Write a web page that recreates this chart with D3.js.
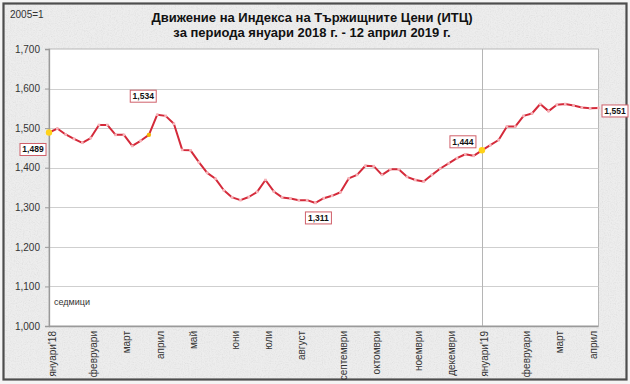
<!DOCTYPE html>
<html>
<head>
<meta charset="utf-8">
<script src="https://cdn.jsdelivr.net/npm/d3@7"></script>
<style>
  html, body { margin: 0; padding: 0; background: #ffffff; }
  svg { display: block; font-family: "Liberation Sans", Arial, sans-serif; }
</style>
</head>
<body>
<svg id="chart" width="630" height="384"></svg>
<script>
// ---- data ----
const titleLines = ["Движение на Индекса на Тържищните Цени (ИТЦ)", "за периода януари 2018 г. - 12 април 2019 г."];
const unitLabel = "2005=1";
const periodLabel = "седмици";
// weekly index values (week 0 = early January 2018, week 66 = 12 April 2019)
const values = [
  1489, 1499, 1484, 1473, 1463, 1475, 1508, 1508, 1483, 1483,
  1455, 1468, 1483, 1534, 1531, 1511, 1445, 1444, 1414, 1387,
  1372, 1343, 1325, 1318, 1326, 1339, 1369, 1340, 1325, 1322,
  1318, 1318, 1311, 1323, 1329, 1338, 1373, 1382, 1405, 1404,
  1382, 1396, 1396, 1377, 1369, 1365, 1382, 1398, 1411, 1424,
  1434, 1430, 1444, 1457, 1470, 1504, 1504, 1531, 1537, 1561,
  1543, 1559, 1561, 1557, 1552, 1550, 1551
];
const monthLabels = ["януари'18", "февруари", "март", "април", "май", "юни", "юли", "август",
  "септември", "октомври", "ноември", "декември", "януари'19", "февруари", "март", "април"];
const monthWeeks = [0, 5, 9, 13, 17, 22, 26, 30, 35, 39, 44, 48, 52, 57, 61, 65];
const yTicks = [1000, 1100, 1200, 1300, 1400, 1500, 1600, 1700];
const highlightWeeks = [0, 12, 52];
const annotatedWeeks = [0, 13, 32, 52, 66];
const yearBreakWeek = 52;

// ---- layout ----
const W = 630, H = 384;
const plot = { left: 49, right: 598.5, top: 49, bottom: 326 };
const svg = d3.select("#chart");

const defs = svg.append("defs");
const f = defs.append("filter").attr("id", "grain").attr("x", 0).attr("y", 0).attr("width", 1).attr("height", 1);
f.append("feTurbulence").attr("type", "fractalNoise").attr("baseFrequency", 0.85).attr("numOctaves", 2).attr("seed", 3);
f.append("feColorMatrix").attr("type", "matrix")
  .attr("values", "0.33 0.33 0.33 0 0.45  0.33 0.33 0.33 0 0.45  0.33 0.33 0.33 0 0.45  0 0 0 0 0.35");

// background frame
svg.append("rect").attr("x", 0).attr("y", 0).attr("width", W).attr("height", H).attr("fill", "#f4f4f4");
svg.append("rect").attr("x", 3.5).attr("y", 3.5).attr("width", 623).attr("height", 376)
  .attr("fill", "#e3e3e3");
svg.append("rect").attr("x", 3.5).attr("y", 3.5).attr("width", 623).attr("height", 376)
  .attr("filter", "url(#grain)");
svg.append("rect").attr("x", 3.5).attr("y", 3.5).attr("width", 623).attr("height", 376)
  .attr("fill", "none").attr("stroke", "#4d4d4d").attr("stroke-width", 2.2);

// scales
const x = d3.scaleLinear().domain([0, values.length - 1]).range([plot.left, plot.right]);
const y = d3.scaleLinear().domain([1000, 1700]).range([plot.bottom, plot.top]);

// plot area
svg.append("rect").attr("x", plot.left).attr("y", plot.top)
  .attr("width", plot.right - plot.left).attr("height", plot.bottom - plot.top)
  .attr("fill", "#ffffff").attr("stroke", "#b8b8b8").attr("stroke-width", 1);

// gridlines
svg.append("g").selectAll("line").data(yTicks.slice(1, -1)).join("line")
  .attr("x1", plot.left).attr("x2", plot.right)
  .attr("y1", d => Math.round(y(d)) + 0.5).attr("y2", d => Math.round(y(d)) + 0.5)
  .attr("stroke", "#cfcfcf").attr("stroke-width", 1.2);

// year break line
svg.append("line")
  .attr("x1", Math.round(x(yearBreakWeek)) + 0.5).attr("x2", Math.round(x(yearBreakWeek)) + 0.5)
  .attr("y1", plot.top).attr("y2", plot.bottom)
  .attr("stroke", "#b5b5b5").attr("stroke-width", 1);

// y axis
const yAxis = d3.axisLeft(y).tickValues(yTicks).tickFormat(d3.format(",")).tickSize(4).tickPadding(5);
const gy = svg.append("g").attr("transform", `translate(${plot.left},0)`).call(yAxis);
gy.select(".domain").attr("stroke", "#9a9a9a").attr("stroke-width", 1.3);
gy.selectAll(".tick line").attr("stroke", "#9a9a9a");
gy.selectAll(".tick text").attr("font-size", 10).attr("fill", "#333").attr("font-family", "Liberation Sans, Arial, sans-serif");

// bottom axis line
svg.append("line").attr("x1", plot.left).attr("x2", plot.right)
  .attr("y1", plot.bottom + 0.5).attr("y2", plot.bottom + 0.5)
  .attr("stroke", "#9a9a9a").attr("stroke-width", 1.3);

// month labels (rotated)
svg.append("g").selectAll("text").data(monthLabels).join("text")
  .attr("transform", (d, i) => `translate(${x(monthWeeks[i]) + 3},${plot.bottom + 5}) rotate(-90)`)
  .attr("text-anchor", "end").attr("dy", "0.35em")
  .attr("font-size", 10).attr("fill", "#333")
  .text(d => d);

// line
const line = d3.line().x((d, i) => x(i)).y(d => y(d));
svg.append("path").datum(values)
  .attr("d", line).attr("fill", "none")
  .attr("stroke", "#d42a3a").attr("stroke-width", 2).attr("stroke-linejoin", "round");

// point markers
svg.append("g").selectAll("rect").data(values).join("rect")
  .attr("x", (d, i) => x(i) - 1.3).attr("y", d => y(d) - 1.3)
  .attr("width", 2.6).attr("height", 2.6)
  .attr("fill", "#f7b3b9");

// highlighted points
svg.append("g").selectAll("circle").data(highlightWeeks).join("circle")
  .attr("cx", d => x(d)).attr("cy", d => y(values[d]))
  .attr("r", d => d === 12 ? 2.2 : 3.2)
  .attr("fill", d => d === 12 ? "#f4b400" : "#ffd21a");

// annotation boxes
const annoOffset = { 0: [-16, 17], 13: [-14, -18.5], 32: [3, 15], 52: [-19, -8.5], 66: [16.5, 3] };
const fmt = d3.format(",");
const ag = svg.append("g").selectAll("g").data(annotatedWeeks).join("g")
  .attr("transform", d => `translate(${x(d) + annoOffset[d][0]},${y(values[d]) + annoOffset[d][1]})`);
ag.append("rect").attr("x", -13).attr("y", -6).attr("width", 26).attr("height", 12)
  .attr("fill", "#ffffff").attr("stroke", "#d0606a").attr("stroke-width", 1);
ag.append("text").attr("text-anchor", "middle").attr("dy", "0.35em")
  .attr("font-size", 8.5).attr("font-weight", "bold").attr("fill", "#111")
  .text(d => fmt(values[d]));

// titles
svg.append("g").selectAll("text").data(titleLines).join("text")
  .attr("x", 312).attr("y", (d, i) => 22 + i * 14.5)
  .attr("text-anchor", "middle").attr("font-size", 13).attr("font-weight", "bold").attr("fill", "#111")
  .text(d => d);

svg.append("text").attr("x", 10).attr("y", 18).attr("font-size", 10).attr("fill", "#333").text(unitLabel);
svg.append("text").attr("x", 54).attr("y", 305).attr("font-size", 9).attr("fill", "#333").text(periodLabel);
</script>
</body>
</html>
